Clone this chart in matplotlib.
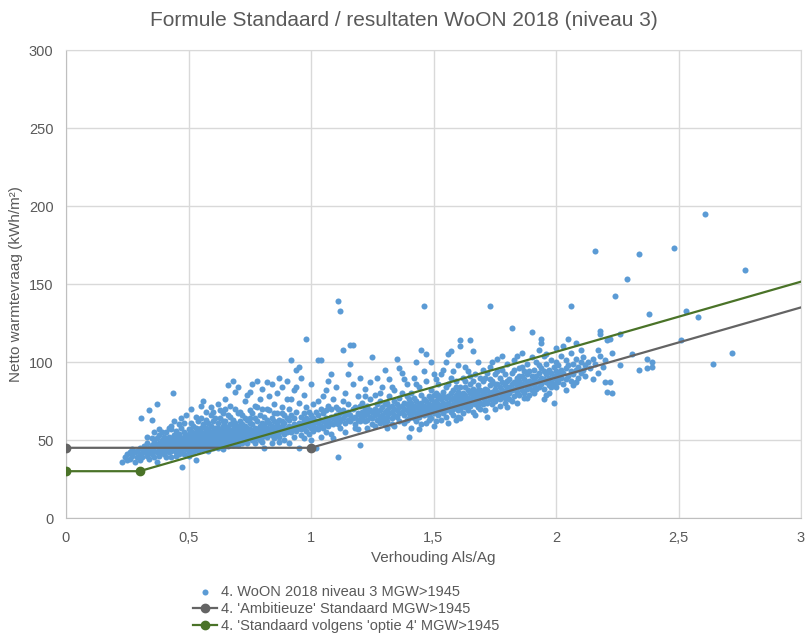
import numpy as np
import matplotlib.pyplot as plt

plt.rcParams['font.family'] = ['Liberation Sans', 'DejaVu Sans']

# WoON 2018 niveau 3, MGW>1945: (Als/Ag, netto warmtevraag kWh/m2)
woon_points = [
    # 0.22 - 0.40
    (0.23, 36), (0.24, 39), (0.25, 41), (0.25, 37), (0.26, 42), (0.26, 38), (0.27, 40), (0.27, 44),
    (0.28, 36), (0.28, 42), (0.29, 39), (0.29, 43), (0.30, 41), (0.30, 45), (0.30, 37), (0.31, 44),
    (0.31, 39), (0.32, 42), (0.305, 64), (0.34, 69), (0.35, 63), (0.37, 73), (0.435, 80), (0.43, 59),
    (0.475, 33), (0.32, 46), (0.33, 40), (0.33, 44), (0.33, 48), (0.34, 42), (0.34, 45), (0.34, 38),
    (0.35, 47), (0.35, 41), (0.35, 44), (0.36, 49), (0.36, 43), (0.36, 39), (0.37, 46), (0.37, 42),
    (0.37, 51), (0.38, 44), (0.38, 48), (0.38, 40), (0.38, 53), (0.39, 45), (0.39, 47), (0.39, 42),
    (0.39, 50), (0.40, 44), (0.40, 48), (0.40, 41), (0.40, 52), (0.40, 46), (0.36, 55), (0.38, 57),
    (0.39, 55), (0.37, 36), (0.35, 51), (0.33, 52),
    # 0.41 - 0.50
    (0.41, 43), (0.41, 47), (0.41, 50), (0.41, 45), (0.41, 55), (0.42, 42), (0.42, 46), (0.42, 49),
    (0.42, 52), (0.42, 44), (0.43, 45), (0.43, 48), (0.43, 51), (0.43, 43), (0.43, 57), (0.44, 46),
    (0.44, 50), (0.44, 44), (0.44, 53), (0.44, 48), (0.45, 42), (0.45, 47), (0.45, 49), (0.45, 52),
    (0.45, 45), (0.45, 56), (0.46, 44), (0.46, 48), (0.46, 50), (0.46, 54), (0.46, 46), (0.47, 43),
    (0.47, 47), (0.47, 51), (0.47, 49), (0.47, 58), (0.48, 45), (0.48, 48), (0.48, 52), (0.48, 46),
    (0.48, 55), (0.48, 61), (0.49, 44), (0.49, 47), (0.49, 50), (0.49, 53), (0.49, 49), (0.50, 42),
    (0.50, 46), (0.50, 48), (0.50, 51), (0.50, 54), (0.50, 57), (0.50, 45), (0.44, 62), (0.46, 60),
    (0.42, 58), (0.47, 64), (0.49, 66), (0.45, 40), (0.43, 39), (0.48, 41), (0.50, 40), (0.46, 41),
    (0.41, 39),
    # 0.51 - 0.60
    (0.51, 45), (0.51, 48), (0.51, 50), (0.51, 53), (0.51, 56), (0.51, 43), (0.52, 46), (0.52, 49),
    (0.52, 51), (0.52, 54), (0.52, 47), (0.52, 59), (0.53, 44), (0.53, 47), (0.53, 50), (0.53, 52),
    (0.53, 55), (0.53, 48), (0.53, 37), (0.54, 45), (0.54, 49), (0.54, 51), (0.54, 53), (0.54, 57),
    (0.54, 62), (0.55, 46), (0.55, 48), (0.55, 50), (0.55, 52), (0.55, 55), (0.55, 58), (0.55, 44),
    (0.56, 47), (0.56, 49), (0.56, 51), (0.56, 54), (0.56, 60), (0.56, 75), (0.57, 45), (0.57, 48),
    (0.57, 50), (0.57, 53), (0.57, 56), (0.57, 63), (0.58, 46), (0.58, 49), (0.58, 51), (0.58, 54),
    (0.58, 57), (0.58, 47), (0.59, 45), (0.59, 48), (0.59, 50), (0.59, 52), (0.59, 55), (0.59, 59),
    (0.59, 66), (0.60, 47), (0.60, 49), (0.60, 51), (0.60, 53), (0.60, 56), (0.60, 62), (0.60, 68),
    (0.53, 65), (0.51, 70), (0.55, 64), (0.57, 68), (0.58, 61), (0.52, 42), (0.54, 43), (0.56, 44),
    (0.58, 43), (0.60, 45), (0.55, 72), (0.59, 71), (0.53, 58), (0.57, 58), (0.51, 61),
    # 0.61 - 0.70
    (0.61, 46), (0.61, 49), (0.61, 52), (0.61, 55), (0.61, 58), (0.61, 50), (0.62, 47), (0.62, 50),
    (0.62, 53), (0.62, 56), (0.62, 61), (0.62, 73), (0.63, 48), (0.63, 51), (0.63, 54), (0.63, 57),
    (0.63, 52), (0.63, 64), (0.64, 47), (0.64, 50), (0.64, 52), (0.64, 55), (0.64, 59), (0.64, 67),
    (0.65, 49), (0.65, 51), (0.65, 54), (0.65, 57), (0.65, 62), (0.65, 70), (0.66, 48), (0.66, 52),
    (0.66, 55), (0.66, 58), (0.66, 85), (0.66, 53), (0.67, 50), (0.67, 53), (0.67, 56), (0.67, 60),
    (0.67, 65), (0.68, 49), (0.68, 52), (0.68, 55), (0.68, 57), (0.68, 88), (0.68, 63), (0.69, 51),
    (0.69, 54), (0.69, 58), (0.69, 81), (0.69, 61), (0.70, 50), (0.70, 53), (0.70, 56), (0.70, 59),
    (0.70, 84), (0.70, 67), (0.70, 47), (0.62, 45), (0.64, 44), (0.66, 46), (0.68, 47), (0.63, 69),
    (0.65, 76), (0.67, 72), (0.69, 70), (0.61, 64), (0.64, 62), (0.66, 66), (0.68, 60), (0.62, 58),
    (0.69, 56), (0.65, 59),
    # 0.71 - 0.80
    (0.71, 52), (0.71, 55), (0.71, 58), (0.71, 62), (0.71, 49), (0.72, 51), (0.72, 54), (0.72, 57),
    (0.72, 60), (0.72, 66), (0.73, 50), (0.73, 53), (0.73, 56), (0.73, 59), (0.73, 75), (0.74, 52),
    (0.74, 55), (0.74, 58), (0.74, 63), (0.74, 79), (0.75, 51), (0.75, 54), (0.75, 57), (0.75, 61),
    (0.75, 81), (0.75, 69), (0.76, 50), (0.76, 53), (0.76, 56), (0.76, 60), (0.76, 86), (0.77, 52),
    (0.77, 55), (0.77, 58), (0.77, 64), (0.77, 72), (0.78, 51), (0.78, 54), (0.78, 57), (0.78, 62),
    (0.78, 88), (0.79, 53), (0.79, 56), (0.79, 59), (0.79, 66), (0.79, 76), (0.80, 52), (0.80, 55),
    (0.80, 58), (0.80, 61), (0.80, 70), (0.80, 49), (0.72, 48), (0.74, 48), (0.77, 48), (0.79, 50),
    (0.73, 64), (0.76, 67), (0.78, 71), (0.71, 68), (0.75, 64), (0.80, 83),
    # 0.81 - 0.90
    (0.81, 53), (0.81, 56), (0.81, 60), (0.81, 65), (0.81, 45), (0.82, 52), (0.82, 55), (0.82, 58),
    (0.82, 87), (0.82, 63), (0.83, 54), (0.83, 57), (0.83, 61), (0.83, 69), (0.83, 78), (0.84, 53),
    (0.84, 56), (0.84, 59), (0.84, 64), (0.84, 86), (0.85, 55), (0.85, 58), (0.85, 62), (0.85, 73),
    (0.85, 51), (0.86, 54), (0.86, 57), (0.86, 60), (0.86, 67), (0.86, 80), (0.87, 55), (0.87, 58),
    (0.87, 63), (0.87, 90), (0.87, 52), (0.88, 56), (0.88, 59), (0.88, 62), (0.88, 71), (0.88, 84),
    (0.89, 54), (0.89, 57), (0.89, 61), (0.89, 66), (0.89, 50), (0.90, 55), (0.90, 58), (0.90, 64),
    (0.90, 76), (0.90, 88), (0.84, 48), (0.87, 49), (0.82, 70), (0.85, 67), (0.88, 67),
    # 0.91 - 1.00
    (0.91, 56), (0.91, 59), (0.91, 63), (0.91, 70), (0.92, 55), (0.92, 58), (0.92, 101), (0.92, 66),
    (0.93, 57), (0.93, 60), (0.93, 64), (0.93, 82), (0.93, 52), (0.94, 56), (0.94, 59), (0.94, 95),
    (0.94, 68), (0.95, 58), (0.95, 61), (0.95, 45), (0.95, 97), (0.95, 74), (0.96, 57), (0.96, 60),
    (0.96, 65), (0.96, 53), (0.97, 58), (0.97, 62), (0.97, 67), (0.97, 79), (0.98, 56), (0.98, 60),
    (0.98, 115), (0.98, 71), (0.99, 59), (0.99, 63), (0.99, 68), (0.99, 54), (1.00, 58), (1.00, 61),
    (1.00, 66), (1.00, 86), (1.00, 50), (0.92, 76), (0.94, 84), (0.96, 90), (0.98, 64), (0.91, 48),
    (0.97, 51),
    # 1.01 - 1.10
    (1.01, 56), (1.01, 60), (1.01, 64), (1.01, 73), (1.02, 45), (1.02, 58), (1.02, 62), (1.02, 68),
    (1.03, 101), (1.03, 57), (1.03, 61), (1.03, 66), (1.04, 101), (1.04, 59), (1.04, 63), (1.04, 70),
    (1.04, 52), (1.05, 58), (1.05, 62), (1.05, 67), (1.05, 78), (1.06, 60), (1.06, 64), (1.06, 69),
    (1.06, 55), (1.07, 59), (1.07, 63), (1.07, 72), (1.07, 88), (1.08, 61), (1.08, 65), (1.08, 70),
    (1.08, 54), (1.09, 60), (1.09, 64), (1.09, 76), (1.09, 51), (1.10, 62), (1.10, 66), (1.10, 71),
    (1.10, 84), (1.11, 139), (1.11, 39), (1.06, 82), (1.03, 75), (1.08, 92),
    # 1.11 - 1.20
    (1.11, 60), (1.11, 65), (1.11, 70), (1.12, 133), (1.12, 62), (1.12, 67), (1.12, 58), (1.13, 108),
    (1.13, 64), (1.13, 69), (1.13, 75), (1.14, 61), (1.14, 66), (1.14, 80), (1.14, 55), (1.15, 63),
    (1.15, 68), (1.15, 73), (1.16, 111), (1.16, 99), (1.16, 62), (1.16, 66), (1.17, 111), (1.17, 64),
    (1.17, 70), (1.17, 86), (1.18, 60), (1.18, 65), (1.18, 71), (1.18, 58), (1.19, 63), (1.19, 67),
    (1.19, 78), (1.20, 47), (1.20, 62), (1.20, 66), (1.20, 72), (1.20, 90), (1.15, 92), (1.19, 57),
    # 1.21 - 1.30
    (1.21, 64), (1.21, 68), (1.21, 74), (1.22, 62), (1.22, 66), (1.22, 70), (1.22, 83), (1.23, 63),
    (1.23, 67), (1.23, 72), (1.23, 58), (1.24, 65), (1.24, 69), (1.24, 76), (1.25, 103), (1.25, 64),
    (1.25, 68), (1.25, 60), (1.26, 66), (1.26, 70), (1.26, 79), (1.27, 63), (1.27, 67), (1.27, 73),
    (1.27, 90), (1.28, 65), (1.28, 69), (1.28, 61), (1.28, 75), (1.29, 66), (1.29, 71), (1.29, 84),
    (1.30, 64), (1.30, 68), (1.30, 73), (1.30, 60), (1.30, 95), (1.24, 87), (1.26, 59), (1.29, 62),
    (1.22, 78), (1.28, 80),
    # 1.31 - 1.40
    (1.31, 65), (1.31, 69), (1.31, 74), (1.31, 62), (1.32, 67), (1.32, 71), (1.32, 78), (1.32, 89),
    (1.33, 64), (1.33, 68), (1.33, 72), (1.33, 60), (1.34, 66), (1.34, 70), (1.34, 75), (1.34, 82),
    (1.35, 102), (1.35, 65), (1.35, 69), (1.35, 73), (1.36, 67), (1.36, 71), (1.36, 77), (1.36, 62),
    (1.37, 68), (1.37, 72), (1.37, 80), (1.37, 93), (1.38, 66), (1.38, 70), (1.38, 74), (1.38, 61),
    (1.39, 69), (1.39, 73), (1.39, 78), (1.39, 86), (1.40, 52), (1.40, 67), (1.40, 71), (1.40, 76),
    (1.40, 64), (1.33, 84), (1.36, 96), (1.38, 89), (1.31, 58), (1.34, 59), (1.39, 63),
    # 1.41 - 1.50
    (1.41, 66), (1.41, 70), (1.41, 74), (1.41, 80), (1.42, 64), (1.42, 68), (1.42, 72), (1.42, 77),
    (1.43, 67), (1.43, 71), (1.43, 75), (1.43, 100), (1.43, 62), (1.44, 65), (1.44, 69), (1.44, 73),
    (1.44, 84), (1.45, 67), (1.45, 70), (1.45, 74), (1.45, 79), (1.45, 108), (1.45, 60), (1.46, 136),
    (1.46, 66), (1.46, 69), (1.46, 72), (1.46, 76), (1.47, 105), (1.47, 68), (1.47, 71), (1.47, 75),
    (1.47, 88), (1.48, 66), (1.48, 70), (1.48, 73), (1.48, 78), (1.48, 63), (1.49, 100), (1.49, 69),
    (1.49, 72), (1.49, 76), (1.49, 82), (1.50, 67), (1.50, 70), (1.50, 74), (1.50, 79), (1.50, 92),
    (1.50, 59), (1.41, 58), (1.44, 57), (1.47, 61), (1.43, 86), (1.46, 94), (1.42, 90), (1.49, 64),
    (1.45, 71), (1.48, 71), (1.42, 71), (1.50, 72),
    # 1.51 - 1.60
    (1.51, 68), (1.51, 72), (1.51, 75), (1.51, 80), (1.52, 66), (1.52, 70), (1.52, 73), (1.52, 77),
    (1.52, 86), (1.53, 69), (1.53, 72), (1.53, 76), (1.53, 63), (1.54, 67), (1.54, 71), (1.54, 74),
    (1.54, 81), (1.54, 95), (1.55, 69), (1.55, 73), (1.55, 77), (1.55, 84), (1.55, 65), (1.56, 105),
    (1.56, 61), (1.56, 70), (1.56, 74), (1.56, 78), (1.57, 107), (1.57, 68), (1.57, 72), (1.57, 76),
    (1.57, 90), (1.58, 70), (1.58, 73), (1.58, 77), (1.58, 82), (1.58, 66), (1.59, 63), (1.59, 71),
    (1.59, 75), (1.59, 79), (1.59, 88), (1.60, 69), (1.60, 73), (1.60, 76), (1.60, 81), (1.60, 98),
    (1.60, 65), (1.51, 62), (1.53, 92), (1.55, 100), (1.58, 94), (1.52, 79), (1.56, 86), (1.59, 84),
    (1.54, 78), (1.57, 80), (1.51, 89),
    # 1.61 - 1.70
    (1.61, 114), (1.61, 110), (1.61, 70), (1.61, 74), (1.61, 78), (1.61, 84), (1.62, 72), (1.62, 76),
    (1.62, 80), (1.62, 67), (1.63, 71), (1.63, 75), (1.63, 79), (1.63, 88), (1.63, 97), (1.64, 73),
    (1.64, 77), (1.64, 82), (1.64, 69), (1.65, 114), (1.65, 72), (1.65, 76), (1.65, 80), (1.65, 86),
    (1.66, 107), (1.66, 74), (1.66, 78), (1.66, 83), (1.66, 68), (1.67, 73), (1.67, 77), (1.67, 81),
    (1.67, 92), (1.68, 71), (1.68, 75), (1.68, 79), (1.68, 85), (1.68, 100), (1.69, 74), (1.69, 78),
    (1.69, 82), (1.69, 70), (1.70, 73), (1.70, 77), (1.70, 81), (1.70, 88), (1.70, 95), (1.62, 90),
    (1.64, 94), (1.67, 66), (1.69, 90), (1.63, 84), (1.65, 91), (1.61, 64), (1.66, 88), (1.68, 82),
    # 1.71 - 1.80
    (1.71, 75), (1.71, 79), (1.71, 83), (1.71, 90), (1.72, 65), (1.72, 74), (1.72, 78), (1.72, 82),
    (1.73, 136), (1.73, 76), (1.73, 80), (1.73, 85), (1.73, 97), (1.74, 73), (1.74, 77), (1.74, 81),
    (1.74, 88), (1.75, 75), (1.75, 79), (1.75, 83), (1.75, 92), (1.75, 70), (1.76, 77), (1.76, 81),
    (1.76, 86), (1.76, 102), (1.77, 76), (1.77, 80), (1.77, 84), (1.77, 72), (1.78, 78), (1.78, 82),
    (1.78, 87), (1.78, 95), (1.79, 77), (1.79, 81), (1.79, 85), (1.79, 74), (1.80, 79), (1.80, 83),
    (1.80, 88), (1.80, 99), (1.80, 71), (1.72, 93), (1.74, 100), (1.76, 94), (1.78, 104), (1.77, 90),
    (1.79, 92), (1.71, 69), (1.75, 86), (1.73, 89),
    # 1.81 - 1.90
    (1.81, 80), (1.81, 84), (1.81, 89), (1.81, 76), (1.82, 122), (1.82, 82), (1.82, 86), (1.82, 93),
    (1.83, 78), (1.83, 83), (1.83, 87), (1.83, 101), (1.84, 81), (1.84, 85), (1.84, 90), (1.84, 74),
    (1.85, 79), (1.85, 84), (1.85, 88), (1.85, 96), (1.86, 82), (1.86, 86), (1.86, 91), (1.86, 106),
    (1.87, 80), (1.87, 85), (1.87, 89), (1.87, 77), (1.88, 83), (1.88, 87), (1.88, 92), (1.88, 99),
    (1.89, 84), (1.89, 88), (1.89, 94), (1.89, 79), (1.90, 119), (1.90, 82), (1.90, 87), (1.90, 91),
    (1.90, 103), (1.83, 95), (1.86, 97), (1.88, 77), (1.84, 104), (1.82, 75), (1.87, 94), (1.85, 91),
    # 1.91 - 2.00
    (1.91, 85), (1.91, 89), (1.91, 95), (1.91, 80), (1.92, 87), (1.92, 91), (1.92, 100), (1.93, 84),
    (1.93, 88), (1.93, 93), (1.93, 108), (1.94, 115), (1.94, 112), (1.94, 86), (1.94, 90), (1.94, 96),
    (1.95, 76), (1.95, 83), (1.95, 89), (1.95, 94), (1.96, 87), (1.96, 92), (1.96, 99), (1.96, 105),
    (1.97, 85), (1.97, 90), (1.97, 95), (1.97, 80), (1.98, 88), (1.98, 93), (1.98, 101), (1.99, 74),
    (1.99, 86), (1.99, 91), (1.99, 97), (2.00, 109), (2.00, 89), (2.00, 94), (2.00, 100), (2.00, 84),
    (1.92, 83), (1.95, 104), (1.98, 84), (1.96, 79), (1.93, 98),
    # 2.01 - 2.10
    (2.01, 87), (2.01, 92), (2.01, 98), (2.02, 90), (2.02, 95), (2.02, 104), (2.03, 86), (2.03, 93),
    (2.03, 110), (2.04, 89), (2.04, 96), (2.04, 101), (2.05, 115), (2.05, 91), (2.05, 98), (2.06, 136),
    (2.06, 88), (2.06, 94), (2.06, 106), (2.07, 92), (2.07, 99), (2.07, 85), (2.08, 112), (2.08, 95),
    (2.08, 102), (2.09, 90), (2.09, 97), (2.10, 93), (2.10, 100), (2.10, 108), (2.04, 82), (2.08, 87),
    # 2.11 and higher
    (2.11, 103), (2.11, 95), (2.12, 98), (2.12, 91), (2.13, 100), (2.14, 96), (2.15, 102), (2.15, 89),
    (2.16, 171), (2.16, 99), (2.17, 93), (2.17, 108), (2.18, 120), (2.18, 118), (2.18, 104), (2.19, 97),
    (2.20, 87), (2.20, 101), (2.21, 81), (2.21, 114), (2.22, 87), (2.22, 115), (2.23, 80), (2.23, 106),
    (2.24, 142), (2.26, 118), (2.26, 98), (2.29, 153), (2.31, 105), (2.34, 169), (2.34, 95), (2.37, 102),
    (2.37, 96), (2.38, 131), (2.39, 100), (2.39, 97), (2.48, 173), (2.51, 114), (2.53, 133), (2.58, 129),
    (2.61, 195), (2.64, 99), (2.72, 106), (2.77, 159),
]
woon_x = [p[0] for p in woon_points]
woon_y = [p[1] for p in woon_points]

# 'Ambitieuze' Standaard: flat to Als/Ag = 1, then rising
ambitieus_x = [0, 1, 4]
ambitieus_y = [45, 45, 180]

# Standaard volgens 'optie 4': flat to Als/Ag = 0.3, then rising
optie4_x = [0, 0.3, 4]
optie4_y = [30, 30, 196.5]

x_ticks = [0, 0.5, 1, 1.5, 2, 2.5, 3]
x_tick_labels = ['0', '0,5', '1', '1,5', '2', '2,5', '3']
y_ticks = [0, 50, 100, 150, 200, 250, 300]

txt = '#595959'
grid_c = '#d9d9d9'

fig = plt.figure(figsize=(8.08, 6.34), dpi=100)
ax = fig.add_axes([66 / 808, 1 - 518 / 634, 735 / 808, 468 / 634])

ax.scatter(woon_x, woon_y, s=19, color='#5B9BD5', linewidths=0, zorder=2,
           label='4. WoON 2018 niveau 3 MGW>1945')
ax.plot(ambitieus_x, ambitieus_y, color='#646464', lw=1.6, marker='o', ms=6,
        markevery=[0, 1], zorder=3, label="4. 'Ambitieuze' Standaard MGW>1945")
ax.plot(optie4_x, optie4_y, color='#4A7328', lw=1.6, marker='o', ms=6,
        markevery=[0, 1], zorder=3, label="4. 'Standaard volgens 'optie 4' MGW>1945")

ax.set_xlim(0, 3)
ax.set_ylim(0, 300)
ax.set_xticks(x_ticks)
ax.set_xticklabels(x_tick_labels)
ax.set_yticks(y_ticks)
ax.tick_params(length=0, colors=txt, labelsize=10.5, pad=9)
ax.grid(True, color=grid_c, lw=1)
ax.set_axisbelow(True)
for sp in ax.spines.values():
    sp.set_color(grid_c)
ax.spines['left'].set_color('#bfbfbf')
ax.spines['bottom'].set_color('#bfbfbf')

ax.set_xlabel('Verhouding Als/Ag', color=txt, fontsize=11, labelpad=5)
ax.set_ylabel('Netto warmtevraag (kWh/m²)', color=txt, fontsize=11, labelpad=4)
fig.suptitle('Formule Standaard / resultaten WoON 2018 (niveau 3)', color=txt,
             fontsize=15, y=0.982)

leg = fig.legend(loc='upper left', bbox_to_anchor=(186 / 808, 1 - 578 / 634),
                 frameon=False, fontsize=10.5, handlelength=1.6, handletextpad=0.3,
                 labelspacing=0.2, borderpad=0)
for t in leg.get_texts():
    t.set_color(txt)

fig.savefig('out.png', dpi=100)
